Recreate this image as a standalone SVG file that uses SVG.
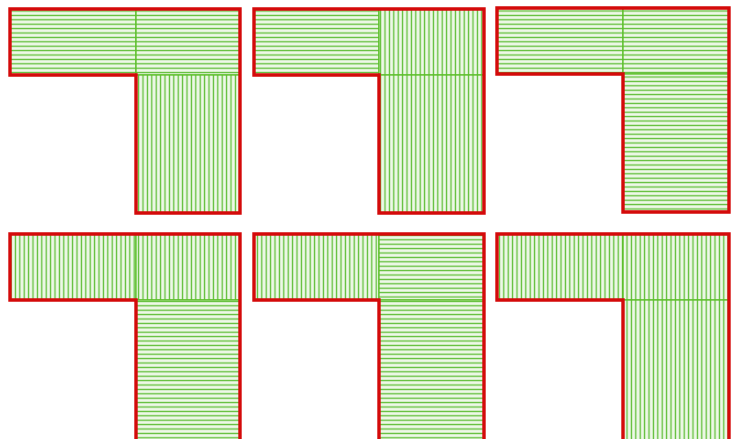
<svg xmlns="http://www.w3.org/2000/svg" width="734" height="439" viewBox="0 0 734 439">
<defs>
<pattern id="hH" patternUnits="userSpaceOnUse" width="10" height="4.4"><rect width="10" height="4.4" fill="#eef8e8"/><line x1="0" y1="2.2" x2="10" y2="2.2" stroke="#5cbd33" stroke-width="1.3"/></pattern>
<pattern id="hV" patternUnits="userSpaceOnUse" width="4.4" height="10"><rect width="4.4" height="10" fill="#eef8e8"/><line x1="2.2" y1="0" x2="2.2" y2="10" stroke="#5cbd33" stroke-width="1.3"/></pattern>
</defs>
<style>
.reg{stroke:#5cbf2a;stroke-width:1.3}
.h{fill:url(#hH)}
.v{fill:url(#hV)}
.out{fill:none;stroke:#d40a0a;stroke-width:3.4;stroke-linejoin:miter}
</style>
<g id="shape1">
<rect class="reg h" x="10" y="9" width="126" height="66"/>
<rect class="reg h" x="136" y="9" width="104" height="66"/>
<rect class="reg v" x="136" y="75" width="104" height="138"/>
<path class="out" d="M10 9H240V213H136V75H10Z"/>
</g>
<g id="shape2">
<rect class="reg h" x="254" y="9" width="125" height="66"/>
<rect class="reg v" x="379" y="9" width="105" height="66"/>
<rect class="reg v" x="379" y="75" width="105" height="138"/>
<path class="out" d="M254 9H484V213H379V75H254Z"/>
</g>
<g id="shape3">
<rect class="reg h" x="497" y="8" width="126" height="66"/>
<rect class="reg h" x="623" y="8" width="106" height="66"/>
<rect class="reg h" x="623" y="74" width="106" height="138"/>
<path class="out" d="M497 8H729V212H623V74H497Z"/>
</g>
<g id="shape4">
<rect class="reg v" x="10" y="234" width="126" height="66"/>
<rect class="reg v" x="136" y="234" width="104" height="66"/>
<rect class="reg h" x="136" y="300" width="104" height="145"/>
<path class="out" d="M10 234H240V445H136V300H10Z"/>
</g>
<g id="shape5">
<rect class="reg v" x="254" y="234" width="125" height="66"/>
<rect class="reg h" x="379" y="234" width="105" height="66"/>
<rect class="reg h" x="379" y="300" width="105" height="145"/>
<path class="out" d="M254 234H484V445H379V300H254Z"/>
</g>
<g id="shape6">
<rect class="reg v" x="497" y="234" width="126" height="66"/>
<rect class="reg v" x="623" y="234" width="106" height="66"/>
<rect class="reg v" x="623" y="300" width="106" height="145"/>
<path class="out" d="M497 234H729V445H623V300H497Z"/>
</g>
<g id="connectors"/>
</svg>
